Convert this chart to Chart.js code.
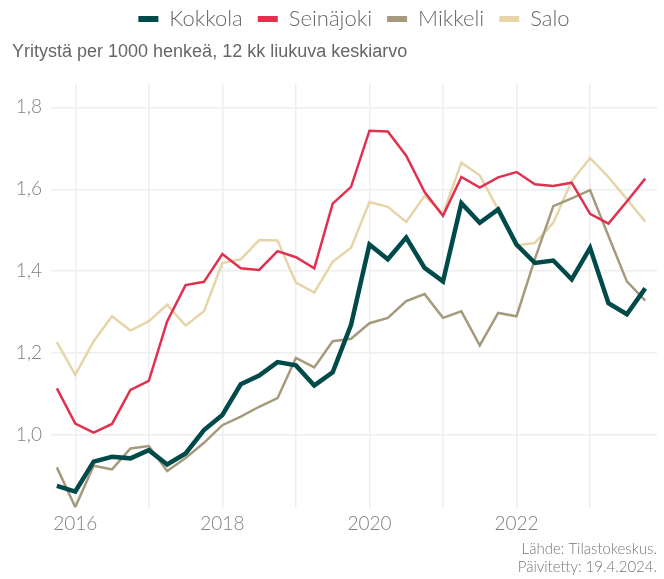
<!DOCTYPE html>
<html>
<head>
<meta charset="utf-8">
<script src="https://cdn.jsdelivr.net/npm/chart.js@4/dist/chart.umd.min.js"></script>
<style>
html,body{margin:0;padding:0;background:#fff;}
#wrap{width:664px;height:579px;}
</style>
</head>
<body>
<div id="wrap"><canvas id="c" width="664" height="579"></canvas></div>
<script>
const quarters = ["2015Q4","2016Q1","2016Q2","2016Q3","2016Q4","2017Q1","2017Q2","2017Q3","2017Q4",
  "2018Q1","2018Q2","2018Q3","2018Q4","2019Q1","2019Q2","2019Q3","2019Q4",
  "2020Q1","2020Q2","2020Q3","2020Q4","2021Q1","2021Q2","2021Q3","2021Q4",
  "2022Q1","2022Q2","2022Q3","2022Q4","2023Q1","2023Q2","2023Q3","2023Q4"];
const kokkola = [0.876,0.862,0.935,0.947,0.943,0.963,0.928,0.955,1.012,1.049,1.124,1.145,1.178,1.170,1.121,1.153,1.269,1.465,1.429,1.482,1.408,1.375,1.566,1.518,1.551,1.465,1.420,1.426,1.380,1.457,1.322,1.295,1.358];
const seinajoki = [1.114,1.028,1.006,1.027,1.110,1.132,1.278,1.366,1.374,1.442,1.407,1.403,1.449,1.434,1.407,1.565,1.606,1.743,1.741,1.682,1.593,1.535,1.630,1.604,1.629,1.642,1.612,1.608,1.616,1.540,1.516,1.570,1.626];
const mikkeli = [0.921,0.824,0.925,0.916,0.967,0.973,0.912,0.944,0.981,1.024,1.045,1.069,1.090,1.188,1.165,1.229,1.235,1.273,1.286,1.327,1.344,1.286,1.302,1.219,1.298,1.290,1.430,1.559,1.578,1.598,1.486,1.375,1.328];
const salo = [1.227,1.147,1.229,1.290,1.255,1.278,1.318,1.267,1.302,1.420,1.429,1.476,1.475,1.372,1.348,1.423,1.457,1.569,1.557,1.520,1.584,1.540,1.665,1.634,1.551,1.463,1.469,1.518,1.620,1.676,1.630,1.576,1.521];
const seriesNames = ["Kokkola","Seinäjoki","Mikkeli","Salo"];
const yTicks = [1.0,1.2,1.4,1.6,1.8];
const xGridYears = [2016,2017,2018,2019,2020,2021,2022,2023];
const xLabelYears = [2016,2018,2020,2022];
const subtitleText = "Yritystä per 1000 henkeä, 12 kk liukuva keskiarvo";
const captionLines = ["Lähde: Tilastokeskus.","Päivitetty: 19.4.2024."];

function qToX(q){ const y = parseInt(q.slice(0,4)); const n = parseInt(q.slice(5)); return y + (n-1)/4; }
function pts(arr){ return arr.map((v,i)=>({x:qToX(quarters[i]), y:v})); }

const colors = ["#004a4a","#e0314f","#a69a7c","#e6d5a8"];
const widths = [4.5,2.5,2.5,2.5];
const allSeries = [kokkola,seinajoki,mikkeli,salo];

const tickFont = {family:"Lato, 'Open Sans', sans-serif", size:19, weight:'300'};

new Chart(document.getElementById('c'), {
  type:'line',
  data:{
    datasets: allSeries.map((s,i)=>({
      label: seriesNames[i],
      data: pts(s),
      borderColor: colors[i],
      backgroundColor: colors[i],
      borderWidth: widths[i],
      pointRadius:0,
      tension:0
    }))
  },
  options:{
    responsive:false,
    animation:false,
    layout:{padding:{left:12,right:7,top:-7,bottom:3}},
    plugins:{
      legend:{
        position:'top',
        weight:3000,
        fullSize:false,
        labels:{
          font:{family:"Lato, 'Open Sans', sans-serif", size:22, weight:'300'},
          color:'#666',
          boxWidth:20, boxHeight:6,
          padding:15,
          sort:(a,b)=>a.datasetIndex-b.datasetIndex,
          generateLabels(chart){
            const items = Chart.defaults.plugins.legend.labels.generateLabels(chart);
            items.forEach(it=>{ it.lineWidth=0; it.strokeStyle='rgba(0,0,0,0)'; });
            return items;
          }
        }
      },
      title:{
        display:true,
        text: subtitleText,
        align:'start',
        weight:2000,
        color:'#666',
        font:{family:"'Liberation Sans', Arial, sans-serif", size:18, weight:'normal'},
        padding:{top:1,bottom:21}
      },
      subtitle:{
        display:true,
        position:'bottom',
        align:'end',
        text: captionLines,
        color:'#777',
        font:{family:"Lato, 'Open Sans', sans-serif", size:15, weight:'300', lineHeight:1.2},
        padding:{top:2,bottom:0}
      },
      tooltip:{enabled:false}
    },
    scales:{
      x:{
        type:'linear',
        min:2015.67, max:2023.91,
        afterBuildTicks(scale){ scale.ticks = xGridYears.map(v=>({value:v})); },
        afterFit(scale){ scale.height = 30.5; },
        ticks:{
          autoSkip:false, maxRotation:0,
          callback:(v)=> xLabelYears.includes(v) ? String(v) : '',
          color:'#808080', font:tickFont, padding:5
        },
        grid:{color:'#eeeeee', lineWidth:1.5, drawTicks:false},
        border:{display:false}
      },
      y:{
        type:'linear',
        min:0.823, max:1.858,
        afterBuildTicks(scale){ scale.ticks = yTicks.map(v=>({value:v})); },
        afterFit(scale){ scale.width = 39; },
        ticks:{
          callback:(v)=> v.toFixed(1).replace('.',','),
          color:'#808080', font:tickFont, padding:9
        },
        grid:{color:'#eeeeee', lineWidth:1.5, drawTicks:false},
        border:{display:false}
      }
    }
  }
});
</script>
</body>
</html>
